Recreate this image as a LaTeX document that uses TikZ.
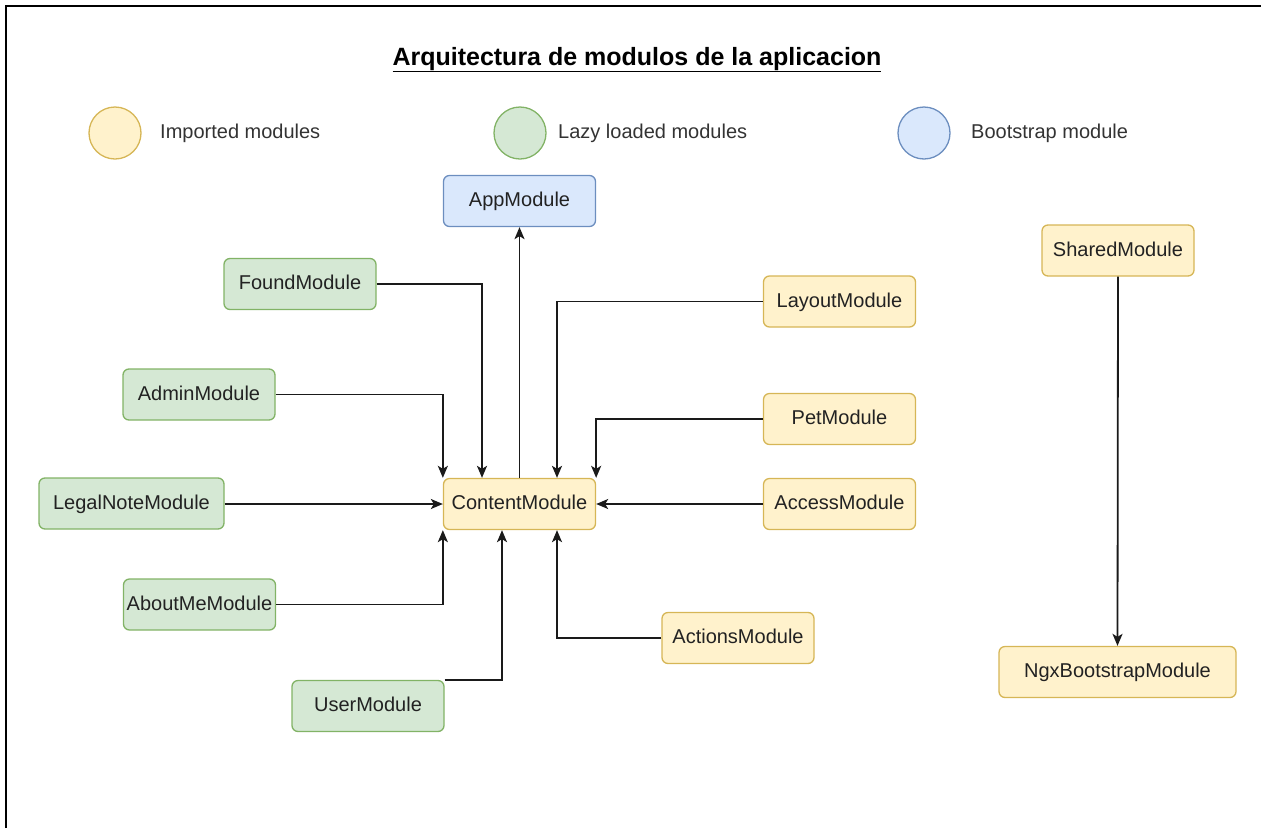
\documentclass[tikz,border=0pt]{standalone}
\usepackage{fontspec}
\setmainfont{Liberation Sans}
\usetikzlibrary{arrows.meta}
\definecolor{greenfill}{HTML}{D5E8D4}
\definecolor{greenline}{HTML}{82B366}
\definecolor{yelfill}{HTML}{FFF2CC}
\definecolor{yelline}{HTML}{D6B656}
\definecolor{bluefill}{HTML}{DAE8FC}
\definecolor{blueline}{HTML}{6C8EBF}
\definecolor{txt}{HTML}{222222}
\definecolor{legtxt}{HTML}{333333}
\definecolor{wire}{HTML}{1A1A1A}
\begin{document}
\begin{tikzpicture}[x=1pt,y=-1pt,
  mod/.style={draw, rounded corners=6pt, line width=1.3pt, minimum height=51pt,
    minimum width=152pt, inner sep=0pt, text height=14.5pt, text depth=3pt,
    font=\fontsize{20}{24}\selectfont, text=txt},
  lazy/.style={mod, fill=greenfill, draw=greenline},
  imp/.style={mod, fill=yelfill, draw=yelline},
  boot/.style={mod, fill=bluefill, draw=blueline},
  legdot/.style={circle, minimum size=52pt, inner sep=0pt, line width=1.3pt},
  legtext/.style={anchor=west, inner sep=0pt, text height=14.5pt, text depth=3pt,
    font=\fontsize{20}{24}\selectfont, text=legtxt},
  arr/.style={-{Stealth[length=12pt,width=10pt,inset=3pt]}, line width=1.8pt, draw=wire}]
\useasboundingbox (0,0) rectangle (1261,828);
% outer frame (left and top edges)
\draw[line width=2pt, black] (6,828) -- (6,6) -- (1261,6);

% title
\node[anchor=base, inner sep=0pt, font=\bfseries\fontsize{25}{30}\selectfont] (title) at (637,65)
  {\underline{Arquitectura de modulos de la aplicacion}};

% legend
\node[legdot, fill=yelfill, draw=yelline] (legimp) at (115,133) {};
\node[legtext] (legimptxt) at (160,133) {Imported modules};
\node[legdot, fill=greenfill, draw=greenline] (leglazy) at (520,133) {};
\node[legtext] (leglazytxt) at (558,133) {Lazy loaded modules};
\node[legdot, fill=bluefill, draw=blueline] (legboot) at (924,133) {};
\node[legtext] (legboottxt) at (971,133) {Bootstrap module};

% modules
\node[boot] (app) at (519.5,201) {AppModule};
\node[imp] (content) at (519.5,504) {ContentModule};

\node[lazy] (found) at (300,284) {FoundModule};
\node[lazy] (admin) at (199,394.5) {AdminModule};
\node[lazy, minimum width=185pt] (legal) at (131.5,503.5) {LegalNoteModule};
\node[lazy] (about) at (199.5,604.5) {AboutMeModule};
\node[lazy] (user) at (368,706) {UserModule};

\node[imp] (layout) at (839.5,301.5) {LayoutModule};
\node[imp] (pet) at (839.5,419) {PetModule};
\node[imp] (access) at (839.5,504) {AccessModule};
\node[imp] (actions) at (738,638) {ActionsModule};

\node[imp] (shared) at (1118,250.5) {SharedModule};
\node[imp, minimum width=237pt] (ngx) at (1117.5,672) {NgxBootstrapModule};

% connectors
\draw[arr] (content.north) -- (app.south);
\draw[arr] (found.east) -| ([xshift=-37.5pt]content.north);
\draw[arr] (admin.east) -| (content.north west);
\draw[arr] (legal.east |- content.west) -- (content.west);
\draw[arr] (about.east) -| (content.south west);
\draw[arr] (user.north east) -| ([xshift=-17.5pt]content.south);
\draw[arr] (layout.west) -| ([xshift=37.5pt]content.north);
\draw[arr] (pet.west) -| (content.north east);
\draw[arr] (access.west) -- (content.east);
\draw[arr] (actions.west) -| ([xshift=37.5pt]content.south);
\draw[arr] (shared.south) -- (ngx.north);
\end{tikzpicture}
\end{document}
